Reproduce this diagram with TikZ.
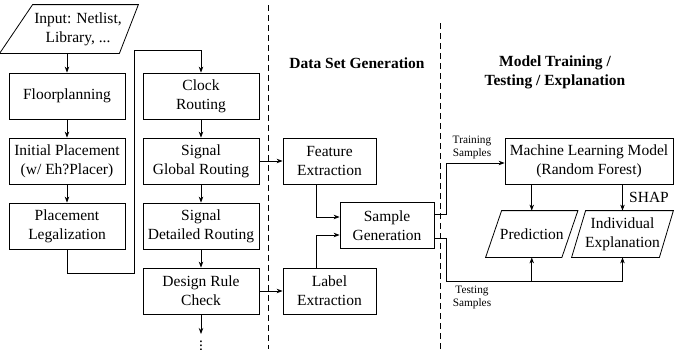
\documentclass[tikz,border=0pt]{standalone}
\usepackage{fontspec}
\setmainfont{Liberation Serif}
\usetikzlibrary{arrows.meta}
% slanted outline round a node: bottom left, top left, top right, bottom right shifts
\newcommand\paraout[5]{\draw ([xshift=#2]#1.south west) -- ([xshift=#3]#1.north west) -- ([xshift=#4]#1.north east) -- ([xshift=#5]#1.south east) -- cycle;}
\begin{document}
\begin{tikzpicture}[x=1pt,y=-1pt,line width=0.8pt,
    font=\fontsize{15.5}{19}\selectfont,
    >={Stealth[length=6pt,width=4.5pt]},
    blk/.style={draw,align=center,minimum width=116pt,minimum height=46pt,inner sep=2pt},
    io/.style={align=center,minimum height=46pt,inner xsep=0pt,inner ysep=1pt},
    note/.style={font=\fontsize{11.3}{13}\selectfont,align=center},
    head/.style={font=\fontsize{15.5}{19}\selectfont\bfseries,align=center},
    sep/.style={dash pattern=on 6pt off 4pt,line width=0.6pt}]
\useasboundingbox (0,0) rectangle (675,349);

% physical design flow
\node[io,minimum width=101pt,minimum height=48pt] (in) at (78,29) {Input: Netlist,\\Library, ...};
\paraout{in}{-27.5pt}{5.5pt}{9.5pt}{-9.5pt}
\node[blk] (fp) at (67,96) {Floorplanning};
\node[blk] (ip) at (67,161) {Initial Placement\\(w/ Eh?Placer)};
\node[blk] (lg) at (67,226) {Placement\\Legalization};
\node[blk] (ck) at (201,96) {Clock\\Routing};
\node[blk] (gr) at (201,161) {Signal\\Global Routing};
\node[blk] (dr) at (201,226) {Signal\\Detailed Routing};
\node[blk] (drc) at (201,291) {Design Rule\\Check};
\node[inner sep=0pt,anchor=north] (dots) at (201,334) {$\vdots$};
\coordinate (lgb) at (134,273);
\coordinate (lgt) at (134,50);

% data set generation
\node[head] (dsg) at (357,63) {Data Set Generation};
\node[blk,minimum width=93pt] (fe) at (329.5,161) {Feature\\Extraction};
\node[blk,minimum width=93pt] (le) at (329.5,291) {Label\\Extraction};
\node[blk,minimum width=94pt] (sg) at (387,225.5) {Sample\\Generation};

% model training / testing / explanation
\node[head] (mtt) at (555,72) {Model Training /\\Testing / Explanation};
\node[blk,minimum width=168pt] (ml) at (589,161) {Machine Learning Model\\(Random Forest)};
\node[io,minimum width=75.5pt] (pr) at (531.75,234) {Prediction};
\paraout{pr}{-8pt}{8pt}{8pt}{-8pt}
\node[io,minimum width=87pt] (ex) at (622.5,234) {Individual\\Explanation};
\paraout{ex}{-7pt}{7pt}{7pt}{-7pt}
\node[note] (trn) at (472,147) {Training\\Samples};
\node[note] (tst) at (472,297) {Testing\\Samples};
\coordinate (tsty) at (0,281);

% separators
\coordinate (s1t) at (268,5);
\coordinate (s1b) at (268,349);
\coordinate (s2t) at (440,23);
\coordinate (s2b) at (440,349);
\draw[sep] (s1t) -- (s1b);
\draw[sep] (s2t) -- (s2b);

\draw[->] (fp.north |- in.south) -- (fp);
\draw[->] (fp) -- (ip);
\draw[->] (ip) -- (lg);
\draw[->] (lg.south) |- (lgb) -- (lgt) -| (ck.north);
\draw[->] (ck) -- (gr);
\draw[->] (gr) -- (dr);
\draw[->] (dr) -- (drc);
\draw[->] (drc) -- (dots.north);

\draw[->] (gr) -- (fe);
\draw[->] (drc) -- (le);
\draw[->] ([xshift=-13.5pt]fe.south) |- ([yshift=8.5pt]sg.west);
\draw[->] ([xshift=-13.5pt]le.north) |- ([yshift=-9.5pt]sg.west);

\draw[->] ([yshift=11.5pt]sg.east) -- ++(12,0) |- ([yshift=-2pt]ml.west);
\draw ([yshift=-12.5pt]sg.east) -- ++(12,0) |- (ex.south |- tsty);
\draw[->] (pr.south |- tsty) -- (pr.south);
\draw[->] (ex.south |- tsty) -- (ex.south);
\draw[->] (pr.north |- ml.south) -- (pr.north);
\draw[->] (ex.north |- ml.south) -- node[right=3pt] {SHAP} (ex.north);
\end{tikzpicture}
\end{document}
